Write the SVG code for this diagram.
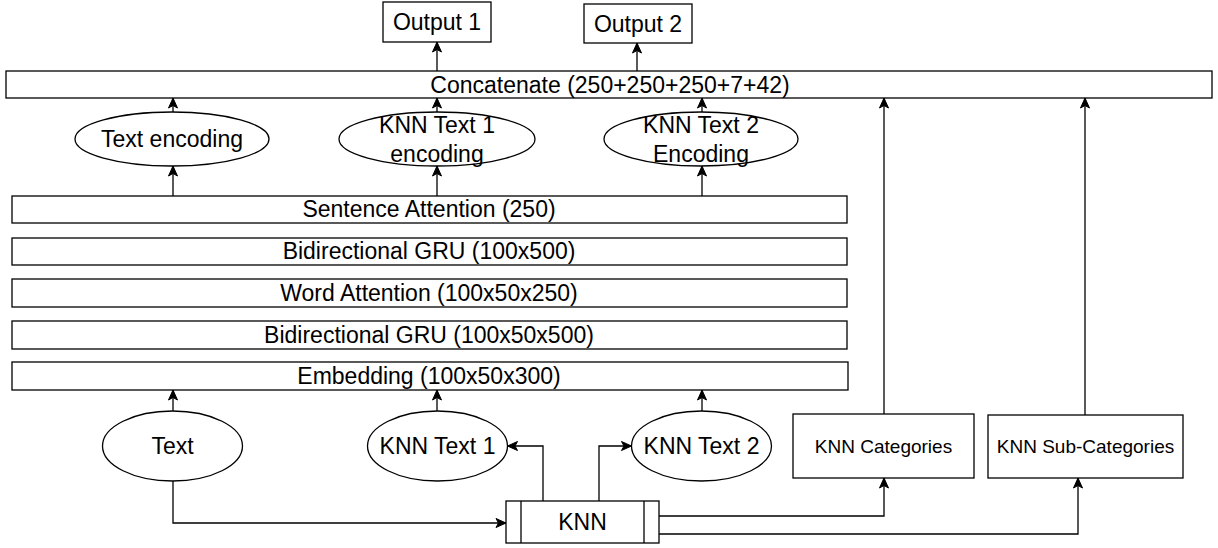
<svg xmlns="http://www.w3.org/2000/svg" width="1218" height="548" viewBox="0 0 1218 548">
<style>
.s{fill:#fff;stroke:#000;stroke-width:1.3}
.t{font-family:"Liberation Sans",Arial,sans-serif;font-size:23px;fill:#000;text-anchor:middle}
.ts{font-family:"Liberation Sans",Arial,sans-serif;font-size:19px;fill:#000;text-anchor:middle}
.c{fill:none;stroke:#000;stroke-width:1.3}
</style>
<defs>
<marker id="a" markerUnits="userSpaceOnUse" markerWidth="12" markerHeight="12" viewBox="0 0 12 12" refX="11" refY="6" orient="auto">
<path d="M1,1.5 L11,6 L1,10.5 L3.5,6 Z" fill="#000" stroke="#000" stroke-width="1"/>
</marker>
</defs>
<rect width="1218" height="548" fill="#fff"/>
<g id="output1"><rect class="s" x="383" y="2" width="108" height="40"/><text class="t" x="437" y="30">Output 1</text></g>
<g id="output2"><rect class="s" x="584" y="4" width="108" height="39"/><text class="t" x="638" y="32">Output 2</text></g>
<g id="concat"><rect class="s" x="6" y="71" width="1206" height="27"/><text class="t" x="610" y="93">Concatenate (250+250+250+7+42)</text></g>
<g id="textenc"><ellipse class="s" cx="172" cy="139" rx="97" ry="27"/><text class="t" x="172" y="147">Text encoding</text></g>
<g id="knn1enc"><ellipse class="s" cx="437" cy="139" rx="98" ry="27"/><text class="t" x="437" y="133">KNN Text 1</text><text class="t" x="437" y="162">encoding</text></g>
<g id="knn2enc"><ellipse class="s" cx="701" cy="139" rx="97" ry="27"/><text class="t" x="701" y="133">KNN Text 2</text><text class="t" x="701" y="162">Encoding</text></g>
<g id="sentatt"><rect class="s" x="12" y="196" width="835" height="27"/><text class="t" x="429" y="217">Sentence Attention (250)</text></g>
<g id="bigru1"><rect class="s" x="12" y="238" width="835" height="27"/><text class="t" x="429" y="259">Bidirectional GRU (100x500)</text></g>
<g id="wordatt"><rect class="s" x="12" y="279" width="835" height="28"/><text class="t" x="429" y="301">Word Attention (100x50x250)</text></g>
<g id="bigru2"><rect class="s" x="12" y="321" width="835" height="28"/><text class="t" x="429" y="343">Bidirectional GRU (100x50x500)</text></g>
<g id="embed"><rect class="s" x="12" y="362" width="836" height="28"/><text class="t" x="429" y="384">Embedding (100x50x300)</text></g>
<g id="text"><ellipse class="s" cx="172.5" cy="446" rx="70" ry="35"/><text class="t" x="172.5" y="454">Text</text></g>
<g id="knn1"><ellipse class="s" cx="437.5" cy="446" rx="70" ry="35"/><text class="t" x="437.5" y="454">KNN Text 1</text></g>
<g id="knn2"><ellipse class="s" cx="701.5" cy="446" rx="70" ry="35"/><text class="t" x="701.5" y="454">KNN Text 2</text></g>
<g id="knncat"><rect class="s" x="793" y="414" width="181" height="64"/><text class="ts" x="883.5" y="453">KNN Categories</text></g>
<g id="knnsub"><rect class="s" x="988" y="415" width="195" height="63"/><text class="ts" x="1085.5" y="453">KNN Sub-Categories</text></g>
<g id="knn"><rect class="s" x="506" y="501" width="153" height="42"/><line class="c" x1="521" y1="501" x2="521" y2="543"/><line class="c" x1="644" y1="501" x2="644" y2="543"/><text class="t" x="582.5" y="530">KNN</text></g>
<g id="connectors">
<path class="c" marker-end="url(#a)" d="M437,71 V42"/>
<path class="c" marker-end="url(#a)" d="M637,71 V43"/>
<path class="c" marker-end="url(#a)" d="M173,112 V98"/>
<path class="c" marker-end="url(#a)" d="M437,112 V98"/>
<path class="c" marker-end="url(#a)" d="M702,112 V98"/>
<path class="c" marker-end="url(#a)" d="M173,196 V166"/>
<path class="c" marker-end="url(#a)" d="M437,196 V166"/>
<path class="c" marker-end="url(#a)" d="M702,196 V166"/>
<path class="c" marker-end="url(#a)" d="M173,411 V390"/>
<path class="c" marker-end="url(#a)" d="M437,411 V390"/>
<path class="c" marker-end="url(#a)" d="M702,411 V390"/>
<path class="c" marker-end="url(#a)" d="M173,481 V523 H506"/>
<path class="c" marker-end="url(#a)" d="M543,501 V446 H507.5"/>
<path class="c" marker-end="url(#a)" d="M599,501 V446 H631.5"/>
<path class="c" marker-end="url(#a)" d="M659,516 H884 V478"/>
<path class="c" marker-end="url(#a)" d="M659,534 H1078 V478"/>
<path class="c" marker-end="url(#a)" d="M884,414 V98"/>
<path class="c" marker-end="url(#a)" d="M1085,415 V98"/>
</g>
</svg>
